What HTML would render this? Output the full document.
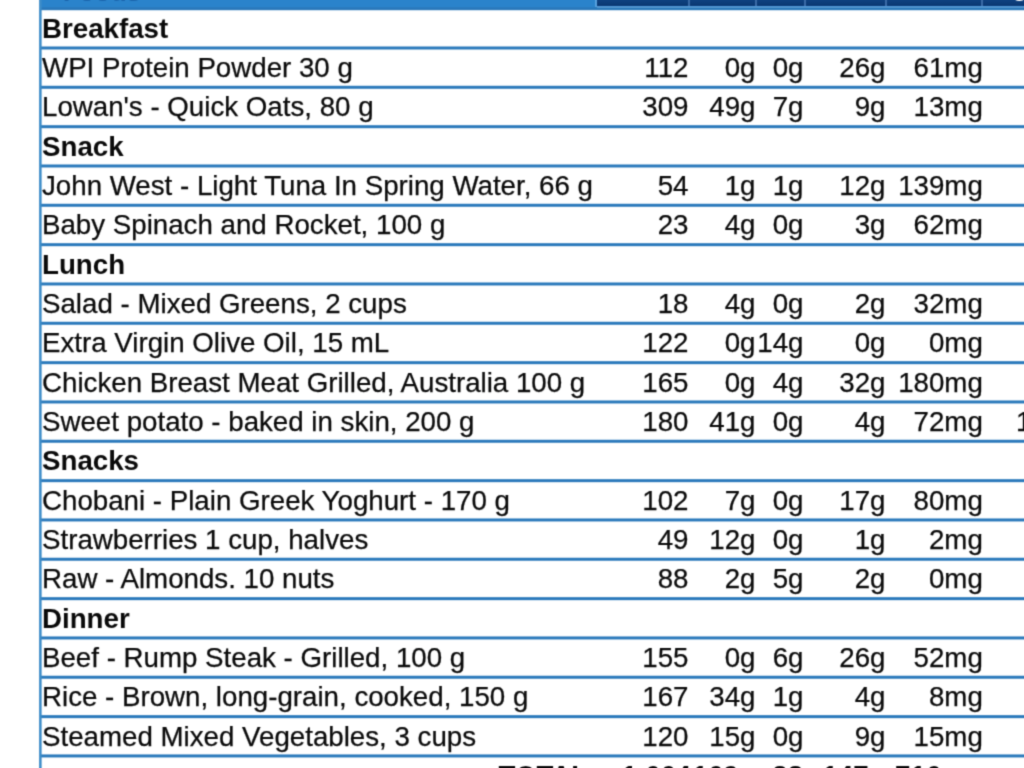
<!DOCTYPE html>
<html><head><meta charset="utf-8"><title>Meal plan</title>
<style>
html,body{margin:0;padding:0;background:#fff;}
body{width:1024px;height:768px;overflow:hidden;position:relative;font-family:"Liberation Sans",Arial,sans-serif;color:#0a0a0a;-webkit-text-stroke:0.25px #0a0a0a;}
#wrap{position:absolute;left:0;top:0;width:1024px;height:768px;overflow:hidden;background:#fff;filter:url(#soft);}
#lines{position:absolute;left:40px;top:-10.89px;width:984px;height:900px;background:repeating-linear-gradient(to bottom, rgba(42,121,187,0) 0px, rgba(42,121,187,0) 17.61px, #2a79bb 18.71px, #2a79bb 20.61px, rgba(42,121,187,0) 21.71px, rgba(42,121,187,0) 39.33px);}
.vl{position:absolute;left:37px;top:0;width:6px;height:768px;background:linear-gradient(to right,rgba(60,140,200,0) 1.5px,rgba(60,140,200,1) 2.6px,rgba(60,140,200,1) 4.1px,rgba(60,140,200,0) 5.2px);}
.row{position:absolute;left:0;width:1024px;height:39.33px;}
.c{position:absolute;top:0;white-space:nowrap;font-size:27.7px;line-height:39.33px;height:39.33px;}
.f{left:42px;}
.n{text-align:right;width:120px;}
.b{font-weight:bold;-webkit-text-stroke:0;}
.hd1{position:absolute;left:40px;top:0;width:557px;height:9px;background:#2a83cb;}
.hd2{position:absolute;left:596.5px;top:0;width:428px;height:7px;background:linear-gradient(to bottom,#0f4180 0,#0a3873 5px,#0b3a76 6px,#4f97d8 6.4px,#4f97d8 7px);}
.sep{position:absolute;top:0;width:2px;height:6px;background:#3a6aa6;}
.sep0{position:absolute;top:0;left:594.5px;width:2px;height:7px;background:#56a0de;}
.ht2{position:absolute;left:976px;top:-29.7px;font-size:27.7px;line-height:32px;font-weight:bold;color:#fff;white-space:nowrap;-webkit-text-stroke:0;}
.ht{position:absolute;left:63px;top:-24.5px;font-size:26px;line-height:32px;font-weight:bold;color:#1c66ad;white-space:nowrap;-webkit-text-stroke:0;}
</style></head><body><svg width="0" height="0" style="position:absolute"><defs><filter id="soft" x="0" y="0" width="100%" height="100%" color-interpolation-filters="sRGB"><feConvolveMatrix order="3" kernelMatrix="0.0289 0.1122 0.0289 0.1122 0.4356 0.1122 0.0289 0.1122 0.0289" edgeMode="duplicate" preserveAlpha="false"/></filter></defs></svg>
<div id="wrap">

<div class="hd1"></div><div class="hd2"></div><div class="sep0"></div><div class="ht">Foods</div><div class="ht2">Sugar</div>
<div class="sep" style="left:688px"></div>
<div class="sep" style="left:755px"></div>
<div class="sep" style="left:804px"></div>
<div class="sep" style="left:885px"></div>
<div class="sep" style="left:981px"></div>
<div class="row" style="top:8.78px"><div class="c f b">Breakfast</div></div>
<div class="row" style="top:48.11px"><div class="c f">WPI Protein Powder 30 g</div><div class="c n" style="left:568.5px">112</div><div class="c n" style="left:635.5px">0g</div><div class="c n" style="left:683.5px">0g</div><div class="c n" style="left:765.5px">26g</div><div class="c n" style="left:862.8px">61mg</div></div>
<div class="row" style="top:87.44px"><div class="c f">Lowan's - Quick Oats, 80 g</div><div class="c n" style="left:568.5px">309</div><div class="c n" style="left:635.5px">49g</div><div class="c n" style="left:683.5px">7g</div><div class="c n" style="left:765.5px">9g</div><div class="c n" style="left:862.8px">13mg</div></div>
<div class="row" style="top:126.77px"><div class="c f b">Snack</div></div>
<div class="row" style="top:166.10px"><div class="c f">John West - Light Tuna In Spring Water, 66 g</div><div class="c n" style="left:568.5px">54</div><div class="c n" style="left:635.5px">1g</div><div class="c n" style="left:683.5px">1g</div><div class="c n" style="left:765.5px">12g</div><div class="c n" style="left:862.8px">139mg</div></div>
<div class="row" style="top:205.43px"><div class="c f">Baby Spinach and Rocket, 100 g</div><div class="c n" style="left:568.5px">23</div><div class="c n" style="left:635.5px">4g</div><div class="c n" style="left:683.5px">0g</div><div class="c n" style="left:765.5px">3g</div><div class="c n" style="left:862.8px">62mg</div></div>
<div class="row" style="top:244.76px"><div class="c f b">Lunch</div></div>
<div class="row" style="top:284.09px"><div class="c f">Salad - Mixed Greens, 2 cups</div><div class="c n" style="left:568.5px">18</div><div class="c n" style="left:635.5px">4g</div><div class="c n" style="left:683.5px">0g</div><div class="c n" style="left:765.5px">2g</div><div class="c n" style="left:862.8px">32mg</div></div>
<div class="row" style="top:323.42px"><div class="c f">Extra Virgin Olive Oil, 15 mL</div><div class="c n" style="left:568.5px">122</div><div class="c n" style="left:635.5px">0g</div><div class="c n" style="left:683.5px">14g</div><div class="c n" style="left:765.5px">0g</div><div class="c n" style="left:862.8px">0mg</div></div>
<div class="row" style="top:362.75px"><div class="c f">Chicken Breast Meat Grilled, Australia 100 g</div><div class="c n" style="left:568.5px">165</div><div class="c n" style="left:635.5px">0g</div><div class="c n" style="left:683.5px">4g</div><div class="c n" style="left:765.5px">32g</div><div class="c n" style="left:862.8px">180mg</div></div>
<div class="row" style="top:402.08px"><div class="c f">Sweet potato - baked in skin, 200 g</div><div class="c n" style="left:568.5px">180</div><div class="c n" style="left:635.5px">41g</div><div class="c n" style="left:683.5px">0g</div><div class="c n" style="left:765.5px">4g</div><div class="c n" style="left:862.8px">72mg</div><div class="c" style="left:1016px">13g</div></div>
<div class="row" style="top:441.41px"><div class="c f b">Snacks</div></div>
<div class="row" style="top:480.74px"><div class="c f">Chobani - Plain Greek Yoghurt - 170 g</div><div class="c n" style="left:568.5px">102</div><div class="c n" style="left:635.5px">7g</div><div class="c n" style="left:683.5px">0g</div><div class="c n" style="left:765.5px">17g</div><div class="c n" style="left:862.8px">80mg</div></div>
<div class="row" style="top:520.07px"><div class="c f">Strawberries 1 cup, halves</div><div class="c n" style="left:568.5px">49</div><div class="c n" style="left:635.5px">12g</div><div class="c n" style="left:683.5px">0g</div><div class="c n" style="left:765.5px">1g</div><div class="c n" style="left:862.8px">2mg</div></div>
<div class="row" style="top:559.40px"><div class="c f">Raw - Almonds. 10 nuts</div><div class="c n" style="left:568.5px">88</div><div class="c n" style="left:635.5px">2g</div><div class="c n" style="left:683.5px">5g</div><div class="c n" style="left:765.5px">2g</div><div class="c n" style="left:862.8px">0mg</div></div>
<div class="row" style="top:598.73px"><div class="c f b">Dinner</div></div>
<div class="row" style="top:638.06px"><div class="c f">Beef - Rump Steak - Grilled, 100 g</div><div class="c n" style="left:568.5px">155</div><div class="c n" style="left:635.5px">0g</div><div class="c n" style="left:683.5px">6g</div><div class="c n" style="left:765.5px">26g</div><div class="c n" style="left:862.8px">52mg</div></div>
<div class="row" style="top:677.39px"><div class="c f">Rice - Brown, long-grain, cooked, 150 g</div><div class="c n" style="left:568.5px">167</div><div class="c n" style="left:635.5px">34g</div><div class="c n" style="left:683.5px">1g</div><div class="c n" style="left:765.5px">4g</div><div class="c n" style="left:862.8px">8mg</div></div>
<div class="row" style="top:716.72px"><div class="c f">Steamed Mixed Vegetables, 3 cups</div><div class="c n" style="left:568.5px">120</div><div class="c n" style="left:635.5px">15g</div><div class="c n" style="left:683.5px">0g</div><div class="c n" style="left:765.5px">9g</div><div class="c n" style="left:862.8px">15mg</div></div>
<div class="row" style="top:756.05px"><div class="c n b" style="left:297.5px;width:300px">TOTAL:</div><div class="c n b" style="left:571.0px">1,664</div><div class="c n b" style="left:635.5px">169g</div><div class="c n b" style="left:700.0px">38g</div><div class="c n b" style="left:765.5px">147g</div><div class="c n b" style="left:862.8px">716mg</div></div>
<div id="lines"></div>
<div class="vl"></div>
</div></body></html>
